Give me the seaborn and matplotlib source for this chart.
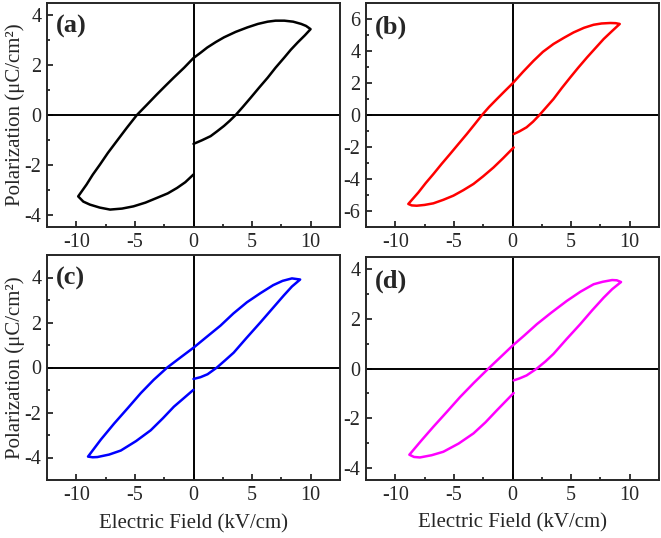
import numpy as np
import pandas as pd
import matplotlib
matplotlib.use("Agg")
import matplotlib.pyplot as plt
import seaborn as sns
from matplotlib.ticker import MultipleLocator

# P-E loops, one branch after the other
# (a) black
E_a = [0, 0.7, 1.46, 2.0, 2.6, 3.1, 3.6, 4.2, 4.89, 5.6, 6.33, 7.0, 7.75, 8.3, 8.9, 9.5, 9.99,
       9.6, 9.18, 8.5, 7.75, 7.0, 6.33, 5.5, 4.6, 3.6, 2.6, 1.9, 1.17, 0.6, 0,
       -0.8, -1.69, -2.4, -3.12, -4.0, -4.83, -5.7, -6.55, -7.3, -7.98, -8.6, -9.12, -9.84,
       -9.4, -8.84, -8.0, -7.12, -6.1, -5.12, -4.1, -3.12, -2.2, -1.4, -0.7, 0]
P_a = [-1.16, -1.02, -0.85, -0.66, -0.44, -0.23, 0.0, 0.32, 0.70, 1.1, 1.50, 1.9, 2.31, 2.62, 2.92, 3.2, 3.45,
       3.58, 3.66, 3.75, 3.79, 3.79, 3.75, 3.66, 3.52, 3.34, 3.12, 2.93, 2.71, 2.5, 2.29,
       1.9, 1.5, 1.17, 0.83, 0.4, 0.0, -0.52, -1.05, -1.52, -1.99, -2.4, -2.79, -3.27,
       -3.48, -3.6, -3.72, -3.80, -3.76, -3.67, -3.52, -3.33, -3.15, -2.93, -2.7, -2.39]

# (b) red
E_b = [0.1, 0.6, 1.2, 1.75, 2.3, 2.9, 3.5, 4.2, 4.93, 5.6, 6.36, 7.1, 7.78, 8.5, 9.15,
       8.8, 8.35, 7.6, 6.92, 6.1, 5.21, 4.4, 3.5, 2.6, 1.8, 0.9, 0,
       -0.65, -1.33, -2.0, -2.6, -3.25, -3.9, -4.6, -5.33, -6.05, -6.75, -7.4, -8.03, -8.89,
       -8.6, -8.17, -7.5, -6.75, -5.9, -5.04, -4.2, -3.33, -2.5, -1.62, -0.8, 0.1]
P_b = [-1.19, -1.02, -0.77, -0.42, 0.0, 0.5, 1.0, 1.68, 2.35, 2.95, 3.6, 4.2, 4.75, 5.25, 5.69,
       5.74, 5.75, 5.72, 5.64, 5.45, 5.16, 4.83, 4.44, 3.95, 3.39, 2.7, 1.97,
       1.5, 1.0, 0.5, 0.0, -0.6, -1.19, -1.8, -2.44, -3.06, -3.69, -4.25, -4.84, -5.56,
       -5.65, -5.67, -5.62, -5.52, -5.3, -5.04, -4.7, -4.31, -3.83, -3.28, -2.7, -2.03]

# (c) blue
E_c = [0, 0.6, 1.2, 2.0, 2.7, 3.43, 4.5, 5.7, 6.7, 7.7, 8.4, 9.1,
       8.4, 7.6, 6.8, 5.7, 4.56, 3.4, 2.3, 1.1, 0, -1.1, -2.24, -3.4, -4.5, -5.6, -6.77, -7.9, -9.0,
       -8.6, -8.2, -7.2, -6.2, -4.9, -3.65, -2.6, -1.67, -0.8, 0]
P_c = [-0.51, -0.43, -0.3, 0.0, 0.32, 0.66, 1.3, 2.0, 2.6, 3.2, 3.6, 3.91,
       3.96, 3.85, 3.66, 3.3, 2.9, 2.4, 1.86, 1.35, 0.88, 0.45, 0.0, -0.55, -1.14, -1.8, -2.49, -3.2, -3.96,
       -3.99, -3.98, -3.87, -3.69, -3.27, -2.79, -2.25, -1.74, -1.35, -0.99]

# (d) magenta
E_d = [0.1, 0.6, 1.2, 2.08, 2.8, 3.5, 4.6, 5.78, 6.8, 7.78, 8.5, 9.26,
       8.9, 8.5, 7.7, 6.92, 5.8, 4.64, 3.3, 2.08, 1.0, 0, -1.0, -2.05, -3.3, -4.47, -5.6, -6.75, -7.8, -8.8,
       -8.4, -7.9, -6.9, -5.9, -4.6, -3.33, -2.3, -1.34, -0.6, 0.1]
P_d = [-0.48, -0.4, -0.28, 0.0, 0.28, 0.59, 1.18, 1.79, 2.35, 2.86, 3.2, 3.49,
       3.56, 3.57, 3.5, 3.4, 3.1, 2.73, 2.25, 1.79, 1.33, 0.92, 0.47, 0.0, -0.58, -1.15, -1.75, -2.35, -2.92, -3.48,
       -3.57, -3.59, -3.5, -3.36, -3.03, -2.62, -2.17, -1.69, -1.33, -0.99]

panel_labels = ["(a)", "(b)", "(c)", "(d)"]
colors = ["black", "#ff0000", "#0000ff", "#ff00ff"]
ylims = [(-4.5, 4.5), (-7, 7), (-5, 5), (-4.5, 4.5)]
ystep = [2, 2, 2, 2]
xlabel = "Electric Field (kV/cm)"
ylabel = "Polarization (\u03bcC/cm\u00b2)"

sns.set_style("ticks")
plt.rcParams['font.family'] = ['Liberation Serif', 'DejaVu Serif']
plt.rcParams['axes.unicode_minus'] = False

fig = plt.figure(figsize=(6.61, 5.38), dpi=100)
W, H = 661, 538
# axes boxes in pixels: left, top, right, bottom
boxes = [(47, 3, 340, 227), (366, 3, 659, 227), (47, 255, 340, 480), (366, 257, 659, 480)]

loops = [(E_a, P_a), (E_b, P_b), (E_c, P_c), (E_d, P_d)]
for i, (E, P) in enumerate(loops):
    l, t, r, b = boxes[i]
    ax = fig.add_axes([l / W, 1 - b / H, (r - l) / W, (b - t) / H])
    df = pd.DataFrame({"E": E, "P": P})
    ax.axhline(0, color="black", lw=1.4, zorder=1)
    ax.axvline(0, color="black", lw=1.4, zorder=1)
    sns.lineplot(data=df, x="E", y="P", sort=False, estimator=None,
                 color=colors[i], lw=1.8, ax=ax, zorder=3)
    ax.set_xlim(-12.5, 12.5)
    ax.set_ylim(*ylims[i])
    ax.xaxis.set_major_locator(MultipleLocator(5))
    ax.xaxis.set_minor_locator(MultipleLocator(2.5))
    ax.yaxis.set_major_locator(MultipleLocator(ystep[i]))
    ax.yaxis.set_minor_locator(MultipleLocator(ystep[i] / 2))
    ax.tick_params(which="both", direction="in", width=1.3, labelsize=14.5, pad=4)
    ax.tick_params(which="major", length=4.5)
    ax.tick_params(which="minor", length=2.5)
    for s in ax.spines.values():
        s.set_linewidth(1.4)
    if i >= 2:
        ax.set_xlabel(xlabel, fontsize=15)
        ax.xaxis.set_label_coords(0.5, -0.15)
    else:
        ax.set_xlabel("")
    if i % 2 == 0:
        ax.set_ylabel(ylabel, fontsize=15)
        ax.yaxis.set_label_coords(-0.076, 0.5)
    else:
        ax.set_ylabel("")
    ax.text(0.03, 0.945, panel_labels[i], transform=ax.transAxes, fontsize=19,
            fontweight="bold", va="top", ha="left")

fig.savefig("out.png", dpi=100)
